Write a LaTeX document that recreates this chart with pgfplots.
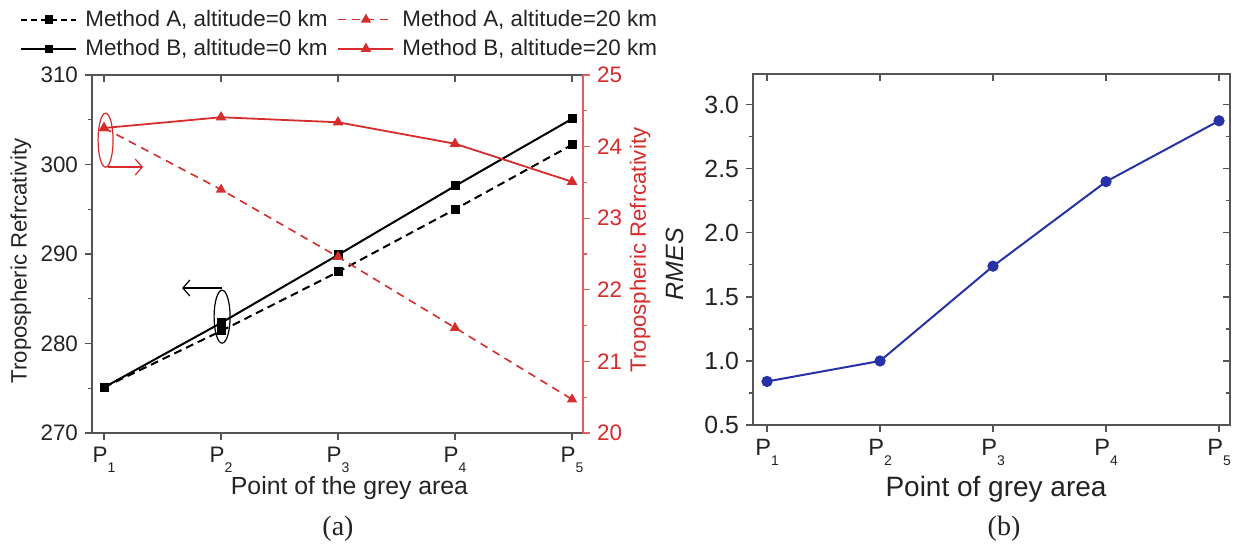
\documentclass[border=0pt]{standalone}
\usepackage{pgfplots}
\pgfplotsset{compat=1.18}
\usetikzlibrary{arrows.meta}
\usepackage{fontspec}
\setmainfont{Liberation Sans}
\newfontfamily\seriffont{Liberation Serif}
\definecolor{myred}{RGB}{214,44,44}
\definecolor{redax}{RGB}{222,95,95}
\definecolor{myblue}{RGB}{38,50,165}
\definecolor{axgrey}{RGB}{85,85,85}
\definecolor{txt}{RGB}{35,35,35}
\newcommand{\Psub}[1]{P\raisebox{-5pt}{\fontsize{7}{7}\selectfont #1}}
\newcommand{\fs}[1]{\fontsize{#1}{#1}\selectfont}
\pgfplotsset{
  common/.style={scale only axis, anchor=south west, clip=false,
    major tick length=3.5pt, minor tick length=2pt,
    axis line style={axgrey, line width=0.8pt},
    tick style={axgrey, line width=0.6pt},
    /pgf/number format/assume math mode=true},
}
\begin{document}
\begin{tikzpicture}
\path[use as bounding box] (0,0) rectangle (620pt,-274pt);
% ---------- (a) black, left axis
\begin{axis}[common, at={(46pt,-216.5pt)}, width=245.5pt, height=179pt,
  xmin=0.897, xmax=5.094, ymin=270, ymax=310,
  axis y line*=left,
  xtick={1,2,3,4,5}, xticklabels={\Psub{1},\Psub{2},\Psub{3},\Psub{4},\Psub{5}},
  xtick pos=left,
  ytick={270,280,290,300,310}, minor y tick num=1,
  tick align=outside,
  ticklabel style={font=\fs{11.2}, text=txt}]
\addplot[black, line width=1pt, dash pattern=on 4pt off 2.5pt, mark=square*, mark size=1.75pt, mark options={solid}]
  coordinates {(1,275.1)(2,281.4)(3,288.0)(4,295.0)(5,302.2)};
\addplot[black, line width=1pt, mark=square*, mark size=1.75pt]
  coordinates {(1,275.1)(2,282.3)(3,289.9)(4,297.6)(5,305.1)};
\draw[black, line width=0.6pt] (axis cs:2.009,283.0) ellipse [x radius=4pt, y radius=13.25pt];
\draw[black, line width=0.6pt, -{Straight Barb[length=3.5pt, width=8pt]}] (axis cs:2.009,286.2) -- (axis cs:1.667,286.2);
\end{axis}
% top inward ticks
\begin{axis}[common, at={(46pt,-216.5pt)}, width=245.5pt, height=179pt,
  xmin=0.897, xmax=5.094, ymin=270, ymax=310,
  axis x line*=top, axis y line=none, ytick=\empty,
  xtick={1,2,3,4,5}, xticklabels={}, tick align=inside]
\end{axis}
% ---------- (a) red, right axis
\begin{axis}[common, at={(46pt,-216.5pt)}, width=245.5pt, height=179pt,
  xmin=0.897, xmax=5.094, ymin=20, ymax=25,
  axis y line*=right, axis x line=none, xtick=\empty,
  ytick={20,21,22,23,24,25}, minor y tick num=1, tick align=outside,
  y axis line style={redax, line width=0.8pt},
  ytick style={redax, line width=0.6pt},
  yticklabel style={font=\fs{11.2}, text=myred},
  legend columns=2,
  legend style={draw=none, fill=none, at={(-0.1589,1.205)}, anchor=north west,
    font=\fs{11.2}, text=txt, column sep=2pt, row sep=1pt,
    /tikz/every even column/.append style={column sep=3pt}},
  legend image code/.code={\draw[mark repeat=2, mark phase=2, #1] plot coordinates {(0pt,0pt) (13.75pt,0pt) (27.5pt,0pt)};}]
\addlegendimage{black, line width=1pt, dash pattern=on 3pt off 2pt, mark=square*, mark size=1.6pt, mark options={solid}}
\addlegendentry{Method A, altitude=0 km}
\addplot[myred, line width=0.8pt, dash pattern=on 4pt off 3pt, mark=triangle*, mark size=2.2pt, mark options={solid}]
  coordinates {(1,24.26)(2,23.40)(3,22.46)(4,21.47)(5,20.47)};
\addlegendentry{Method A, altitude=20 km}
\addlegendimage{black, line width=1pt, mark=square*, mark size=1.6pt}
\addlegendentry{Method B, altitude=0 km}
\addplot[myred, line width=0.9pt, mark=triangle*, mark size=2.2pt]
  coordinates {(1,24.26)(2,24.41)(3,24.34)(4,24.04)(5,23.51)};
\addlegendentry{Method B, altitude=20 km}
\draw[myred, line width=0.6pt] (axis cs:1.013,24.09) ellipse [x radius=3.75pt, y radius=13.5pt];
\draw[myred, line width=0.6pt, -{Straight Barb[length=3.5pt, width=8pt]}] (axis cs:1.034,23.715) -- (axis cs:1.333,23.715);
\end{axis}
% ---------- (b)
\begin{axis}[common, at={(376.5pt,-212.5pt)}, width=238.5pt, height=175.5pt,
  xmin=0.876, xmax=5.097, ymin=0.5, ymax=3.24,
  xtick={1,2,3,4,5}, xticklabels={\Psub{1},\Psub{2},\Psub{3},\Psub{4},\Psub{5}},
  ytick={0.5,1,1.5,2,2.5,3}, minor y tick num=1,
  xtick pos=left, ytick pos=left, tick align=outside,
  yticklabel style={/pgf/number format/fixed, /pgf/number format/fixed zerofill, /pgf/number format/precision=1, font=\fs{12.4}, text=txt},
  xticklabel style={font=\fs{11.8}, text=txt}]
\addplot[myblue, line width=1pt, mark=*, mark size=2.3pt]
  coordinates {(1,0.84)(2,1.0)(3,1.74)(4,2.40)(5,2.875)};
\end{axis}
\begin{axis}[common, at={(376.5pt,-212.5pt)}, width=238.5pt, height=175.5pt,
  xmin=0.876, xmax=5.097, ymin=0.5, ymax=3.24,
  xtick={1,2,3,4,5}, ytick={0.5,1,1.5,2,2.5,3}, minor y tick num=1,
  xticklabels={}, yticklabels={},
  xtick pos=right, ytick pos=right, tick align=inside]
\end{axis}
% ---------- labels
\node[rotate=90, font=\fs{11.1}, text=txt] at (10.5pt,-130.5pt) {Tropospheric Refrcativity};
\node[rotate=90, font=\fs{11.1}, text=myred] at (320pt,-125pt) {Tropospheric Refrcativity};
\node[anchor=base, font=\fs{12.4}, text=txt] at (174.75pt,-247pt) {Point of the grey area};
\node[anchor=base, font=\seriffont\fs{14}, text=txt] at (169pt,-267.5pt) {(a)};
\node[rotate=90, font=\fs{12.5}\itshape, text=txt] at (337.5pt,-132pt) {RMES};
\node[anchor=base, font=\fs{14}, text=txt] at (498pt,-248pt) {Point of grey area};
\node[anchor=base, font=\seriffont\fs{14}, text=txt] at (502pt,-267.5pt) {(b)};
\end{tikzpicture}
\end{document}
